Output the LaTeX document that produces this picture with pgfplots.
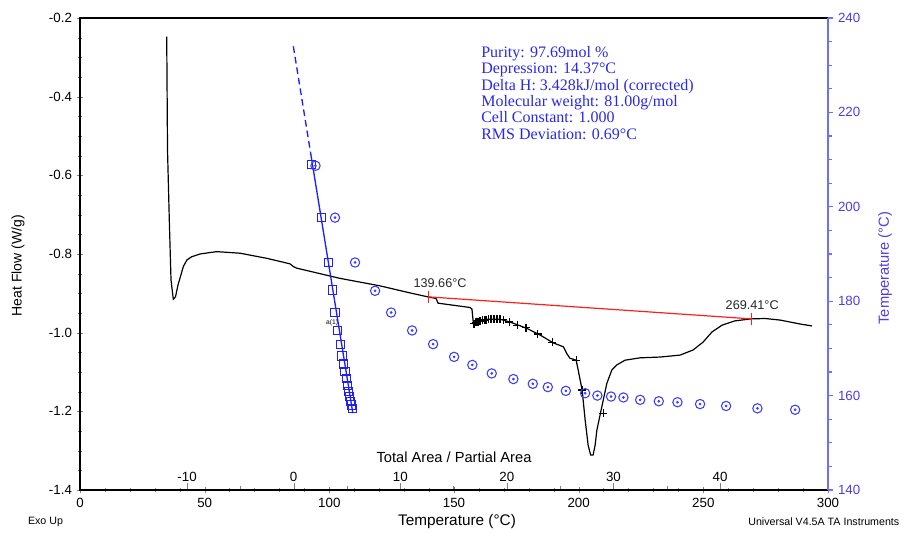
\documentclass[border=0pt]{standalone}
\usepackage{pgfplots}
\pgfplotsset{compat=1.18}
\usepackage{pgfplotstable}
\usepackage{fontspec}
\setmainfont{Liberation Sans}
\newfontfamily\timesfont{Liberation Serif}
\definecolor{fitblue}{RGB}{30,30,255}
\definecolor{circblue}{RGB}{60,60,255}
\definecolor{axblue}{RGB}{110,110,255}
\definecolor{labblue}{RGB}{80,60,230}
\definecolor{txtblue}{RGB}{40,40,235}
\definecolor{redline}{RGB}{255,30,30}

\pgfplotstableread{
T HF
34.78 -0.2475
35.10 -0.536
35.82 -0.714
36.50 -0.866
37.42 -0.915
38.30 -0.909
39.30 -0.879
41.44 -0.832
42.90 -0.815
44.80 -0.807
48.10 -0.800
54.80 -0.794
64.20 -0.798
74.90 -0.811
84.20 -0.825
85.60 -0.832
86.90 -0.836
104.3 -0.862
120.3 -0.881
132.4 -0.899
139.5 -0.909
142.8 -0.913
143.6 -0.925
156.4 -0.936
157.2 -0.940
157.8 -0.978
160.4 -0.970
163.1 -0.966
168.5 -0.966
172.5 -0.973
179.2 -0.989
184.5 -1.006
189.8 -1.026
193.9 -1.036
195.2 -1.053
196.5 -1.065
199.0 -1.070
199.8 -1.095
201.4 -1.146
202.6 -1.222
203.8 -1.286
204.8 -1.311
205.8 -1.311
206.6 -1.286
207.3 -1.248
209.3 -1.188
211.3 -1.129
213.3 -1.095
215.3 -1.082
218.6 -1.070
224.6 -1.064
232.7 -1.062
240.7 -1.057
245.9 -1.044
249.9 -1.024
253.5 -0.998
257.5 -0.981
262.7 -0.970
269.2 -0.965
274.8 -0.964
280.8 -0.968
288.8 -0.978
293.6 -0.983
}\dsccurve

\pgfplotstableread{
T HF
158.0 -0.977
158.8 -0.974
159.6 -0.972
160.4 -0.970
161.3 -0.969
162.1 -0.968
162.9 -0.967
163.9 -0.966
164.9 -0.966
166.1 -0.966
167.3 -0.966
168.5 -0.966
169.8 -0.967
172.2 -0.973
175.4 -0.981
178.9 -0.987
183.6 -1.003
189.4 -1.025
199.0 -1.070
201.4 -1.146
209.9 -1.205
}\crosses

\pgfplotstableread{
A T
1.70 208.9
2.64 197.8
3.26 188.2
3.63 182.4
3.88 177.6
4.14 173.8
4.38 170.9
4.54 168.4
4.66 166.7
4.82 165.1
4.92 163.7
5.04 162.2
5.13 160.8
5.23 159.8
5.32 158.7
5.41 158.0
5.51 157.3
}\squares

\pgfplotstableread{
A T
2.05 208.7
3.88 197.7
5.76 188.2
7.64 182.2
9.14 177.6
11.11 173.8
13.08 170.9
15.05 168.2
16.76 166.5
18.58 164.7
20.61 163.5
22.43 162.5
23.84 161.8
25.53 161.0
27.34 160.5
28.49 160.0
29.77 159.8
30.93 159.6
32.50 159.1
34.25 158.8
36.00 158.6
38.12 158.2
40.56 157.8
43.50 157.3
47.04 157.0
}\circles

\begin{document}
\begin{tikzpicture}
% main axis: heat flow vs temperature
\begin{axis}[
  at={(0,0)}, anchor=south west,
  scale only axis, width=561pt, height=354pt,
  xmin=0, xmax=300, ymin=-1.4, ymax=-0.2,
  xtick={0,50,...,300}, minor x tick num=4,
  ytick={-1.4,-1.2,-1.0,-0.8,-0.6,-0.4,-0.2}, minor y tick num=3,
  xtick pos=bottom, ytick pos=left,
  tick align=center,
  major tick length=5pt, minor tick length=3pt,
  /pgf/number format/assume math mode=true,
  yticklabel style={/pgf/number format/fixed, /pgf/number format/precision=1, /pgf/number format/fixed zerofill},
  tick label style={font=\fontsize{10}{12}\selectfont},
  axis line style={line width=0.8pt},
  xlabel={Temperature (°C)},
  ylabel={Heat Flow (W/g)},
  xlabel style={at={(axis description cs:0.504,0)}, anchor=center, yshift=-24pt, font=\fontsize{11.5}{13}\selectfont},
  ylabel style={at={(axis description cs:-0.083,0.475)}, anchor=center, font=\fontsize{10.5}{12}\selectfont},
  clip=false,
]
\addplot[black, line width=0.9pt] table[x=T, y=HF] {\dsccurve};
\addplot[redline, line width=0.9pt] coordinates {(139.66,-0.909) (269.41,-0.965)};
\addplot[redline, line width=0.9pt] coordinates {(139.66,-0.894) (139.66,-0.924)};
\addplot[redline, line width=0.9pt] coordinates {(269.41,-0.950) (269.41,-0.980)};
\addplot[only marks, black, mark=+, mark size=3pt, mark options={line width=1pt}] table[x=T, y=HF] {\crosses};
\node[font=\fontsize{9.5}{11}\selectfont, text=black!85] at (axis cs:144.4,-0.874) {139.66°C};
\node[font=\fontsize{9.5}{11}\selectfont, text=black!85] at (axis cs:269.6,-0.930) {269.41°C};
\node[font=\fontsize{5}{6}\selectfont] at (axis cs:101.1,-0.976) {a(1)};
\node[anchor=north west, inner sep=0pt, align=left, text=txtblue,
      font=\timesfont\fontsize{12}{12.3}\selectfont] at (axis cs:160.85,-0.2712)
  {Purity: 97.69mol \%\\Depression: 14.37°C\\Delta H: 3.428kJ/mol (corrected)\\Molecular weight: 81.00g/mol\\Cell Constant: 1.000\\RMS Deviation: 0.69°C};
\end{axis}

% purity overlay: total area / partial area vs sample temperature
\begin{axis}[
  at={(0,0)}, anchor=south west,
  scale only axis, width=561pt, height=354pt,
  xmin=-20.04, xmax=50.12, ymin=140, ymax=240,
  axis x line*=bottom, axis y line=none,
  xtick={-10,0,10,20,30,40}, minor x tick num=1,
  tick align=inside,
  major tick length=5pt, minor tick length=3pt,
  /pgf/number format/assume math mode=true,
  xticklabel style={anchor=south, yshift=3pt, font=\fontsize{10}{12}\selectfont},
  axis line style={line width=0.8pt},
  xlabel={Total Area / Partial Area},
  xlabel style={at={(axis description cs:0.5,0)}, anchor=center, yshift=24.75pt, font=\fontsize{11}{13}\selectfont},
]
\addplot[fitblue, line width=1pt, dash pattern=on 5pt off 3pt] coordinates {(-0.03,234.0) (1.62,211.0)};
\addplot[fitblue, line width=1pt] coordinates {(1.62,211.0) (5.55,156.3)};
\addplot[only marks, mark=square, mark size=3.1pt, fitblue, mark options={line width=0.7pt}] table[x=A, y=T] {\squares};
\addplot[only marks, mark=o, mark size=3.5pt, circblue, mark options={line width=0.8pt}] table[x=A, y=T] {\circles};
\addplot[only marks, mark=*, mark size=0.8pt, circblue] table[x=A, y=T] {\circles};
\end{axis}

% right temperature axis
\begin{axis}[
  at={(0,0)}, anchor=south west,
  scale only axis, width=561pt, height=354pt,
  xmin=0, xmax=1, ymin=140, ymax=240,
  axis x line=none, axis y line*=right,
  ytick={140,160,...,240}, minor y tick num=3,
  tick align=outside,
  major tick length=4pt, minor tick length=3pt,
  /pgf/number format/assume math mode=true,
  yticklabel style={text=labblue, font=\fontsize{10}{12}\selectfont},
  y axis line style={axblue, line width=1.5pt},
  ytick style={axblue, line width=0.8pt},
  minor y tick style={axblue},
  ylabel={Temperature (°C)},
  ylabel style={at={(axis description cs:1.0762,0.47)}, anchor=center, text=labblue, font=\fontsize{11}{13}\selectfont},
]
\end{axis}

\node[anchor=west, font=\fontsize{8}{10}\selectfont] at (-42.5pt,-24pt) {Exo Up};
\node[anchor=east, font=\fontsize{8}{10}\selectfont] at (618pt,-24pt) {Universal V4.5A TA Instruments};
\path (-60pt,-33pt) rectangle (618pt,367.5pt);
\end{tikzpicture}
\end{document}
